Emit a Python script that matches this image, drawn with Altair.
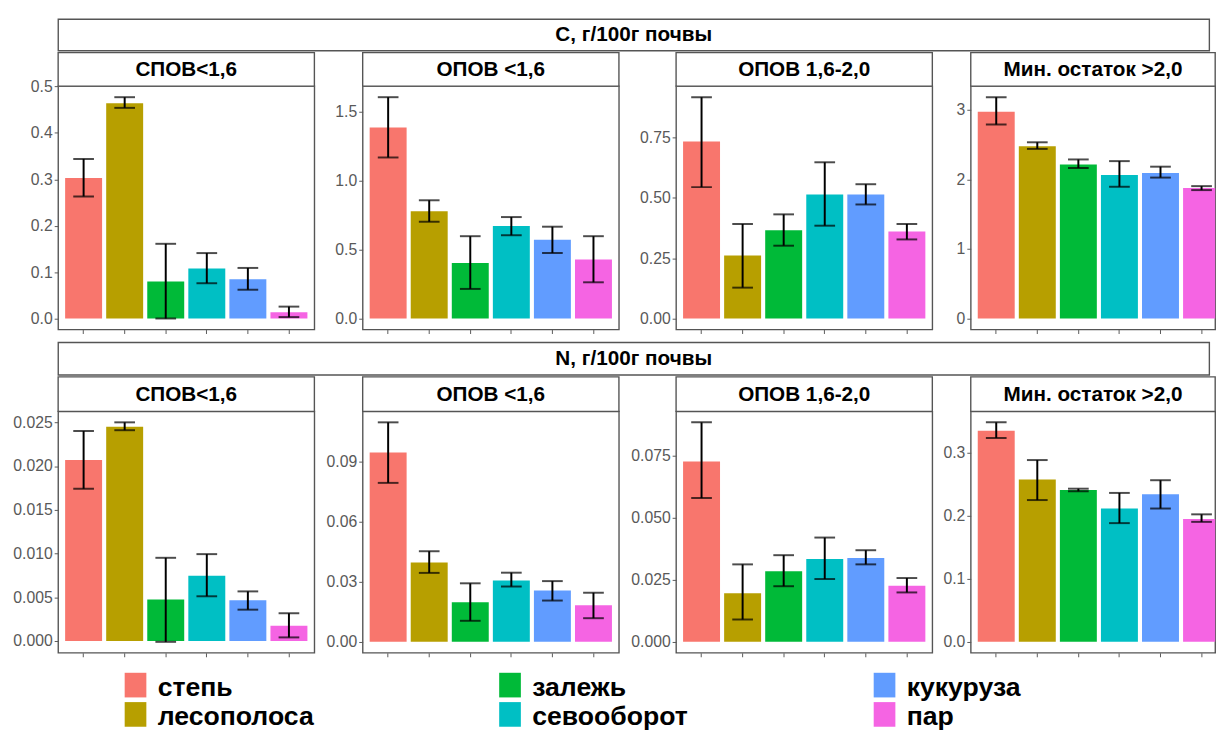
import altair as alt
import pandas as pd

# ---------------- data ----------------
categories = ["степь", "лесополоса", "залежь", "севооборот", "кукуруза", "пар"]
colors = ["#F8766D", "#B79F00", "#00BA38", "#00BFC4", "#619CFF", "#F564E3"]
fractions = ["СПОВ<1,6", "ОПОВ <1,6", "ОПОВ 1,6-2,0", "Мин. остаток >2,0"]
row_titles = ["C, г/100г почвы", "N, г/100г почвы"]

# C, g/100g soil  (one list per fraction)
c_mean = [
    [0.303, 0.464, 0.0795, 0.108, 0.0845, 0.0135],
    [1.388, 0.780, 0.404, 0.672, 0.572, 0.428],
    [0.734, 0.261, 0.366, 0.514, 0.514, 0.361],
    [2.976, 2.479, 2.218, 2.066, 2.095, 1.877],
]
c_lo = [
    [0.263, 0.454, 0.0, 0.076, 0.062, 0.003],
    [1.170, 0.703, 0.215, 0.605, 0.476, 0.263],
    [0.545, 0.128, 0.302, 0.385, 0.473, 0.328],
    [2.791, 2.441, 2.166, 1.896, 2.028, 1.848],
]
c_hi = [
    [0.344, 0.477, 0.161, 0.141, 0.109, 0.0256],
    [1.608, 0.859, 0.598, 0.737, 0.667, 0.598],
    [0.918, 0.392, 0.432, 0.648, 0.557, 0.392],
    [3.185, 2.536, 2.289, 2.265, 2.185, 1.905],
]

# N, g/100g soil
n_mean = [
    [0.0207, 0.0245, 0.00474, 0.00746, 0.00466, 0.00175],
    [0.0944, 0.0396, 0.0198, 0.0306, 0.0256, 0.0182],
    [0.0726, 0.0196, 0.0284, 0.0334, 0.0338, 0.0226],
    [0.334, 0.2568, 0.2403, 0.211, 0.2337, 0.1945],
]
n_lo = [
    [0.0174, 0.0241, -0.0001, 0.00511, 0.00358, 0.00041],
    [0.0793, 0.0344, 0.0105, 0.0276, 0.0206, 0.0118],
    [0.0579, 0.0090, 0.0224, 0.0253, 0.0312, 0.0199],
    [0.3227, 0.2244, 0.2383, 0.1879, 0.211, 0.1899],
]
n_hi = [
    [0.0240, 0.0250, 0.00951, 0.00993, 0.00567, 0.00317],
    [0.1095, 0.0452, 0.0292, 0.0345, 0.0303, 0.0245],
    [0.0884, 0.0312, 0.0349, 0.0420, 0.0369, 0.0257],
    [0.3474, 0.2877, 0.2424, 0.2357, 0.2558, 0.2018],
]

c_ticks = [[0, 0.1, 0.2, 0.3, 0.4, 0.5], [0, 0.5, 1.0, 1.5], [0, 0.25, 0.5, 0.75], [0, 1, 2, 3]]
c_fmt = [".1f", ".1f", ".2f", "d"]
n_ticks = [[0, 0.005, 0.01, 0.015, 0.02, 0.025], [0, 0.03, 0.06, 0.09], [0, 0.025, 0.05, 0.075], [0, 0.1, 0.2, 0.3]]
n_fmt = [".3f", ".2f", ".3f", ".1f"]

# ---------------- style / layout ----------------
FONT = "Liberation Sans"
BORDER = "#555555"
BW = 1.4
GREY = "#595959"
PANEL_W = 260
LAST_W = 248
EXTENTS = [52, 46, 55, 36]   # left-axis extents (gap before each panel)
X_EXT = 12
TOTAL_W = 3 * PANEL_W + sum(EXTENTS[1:]) + 3 + LAST_W

LEGEND = alt.Legend(
    title=None, orient="none", legendX=65, legendY=665, columns=3,
    columnPadding=185, rowPadding=1, gridAlign="all", padding=0,
    labelFont=FONT, labelFontSize=27, labelFontWeight="bold", labelColor="black",
    labelLimit=400, labelOffset=9,
    symbolType="M-0.88,-1.24H0.88V0.76H-0.88Z", symbolSize=625,
    symbolStrokeWidth=0, symbolOpacity=1,
)


def make_panel(name, mean, lo, hi, ticks, fmt, extent, width, strip_h, height):
    df = pd.DataFrame({"category": categories, "mean": mean, "lo": lo, "hi": hi})
    lo_d = min(0.0, min(lo))
    hi_d = max(hi)
    span = hi_d - lo_d
    dom = [lo_d - 0.05 * span, hi_d + 0.05 * span]

    x = alt.X(
        "category:N", sort=categories,
        scale=alt.Scale(paddingInner=0.1, paddingOuter=0.17, range=[0, PANEL_W]),
        axis=alt.Axis(labels=False, title=None, domain=False, grid=False, ticks=True,
                      tickSize=4, tickColor=GREY, tickWidth=1,
                      minExtent=X_EXT, maxExtent=X_EXT),
    )
    yscale = alt.Scale(domain=dom, zero=False, nice=False)
    yaxis = alt.Axis(values=ticks, format=fmt, title=None, grid=False, domain=False,
                     ticks=True, tickSize=4, tickColor=GREY, tickWidth=1,
                     labelColor=GREY, labelFont=FONT, labelFontSize=16, labelPadding=2,
                     minExtent=extent, maxExtent=extent)
    base = alt.Chart(df)
    bars = base.mark_bar(clip=True).encode(
        x=x,
        y=alt.Y("mean:Q", scale=yscale, axis=yaxis),
        y2=alt.datum(0),
        color=alt.Color("category:N", scale=alt.Scale(domain=categories, range=colors),
                        legend=LEGEND),
    )
    rule = base.mark_rule(color="black", strokeWidth=2).encode(x=x, y="lo:Q", y2="hi:Q")
    cap_lo = base.mark_tick(color="black", thickness=2, size=21).encode(x=x, y="lo:Q")
    cap_hi = base.mark_tick(color="black", thickness=2, size=21).encode(x=x, y="hi:Q")

    sdf = pd.DataFrame({"label": [name]})
    strip = alt.Chart(sdf).mark_rect(fill="white", stroke=BORDER, strokeWidth=BW).encode(
        x=alt.value(0), x2=alt.value(width), y=alt.value(-strip_h), y2=alt.value(0))
    strip_txt = alt.Chart(sdf).mark_text(font=FONT, fontSize=21, fontWeight="bold",
                                         color="black").encode(
        x=alt.value(width / 2), y=alt.value(-strip_h / 2 + 1), text="label:N")
    return alt.layer(bars, rule, cap_lo, cap_hi, strip, strip_txt).properties(
        width=width, height=height)


def make_outer_strip(label, h):
    sdf = pd.DataFrame({"label": [label]})
    return alt.Chart(sdf).mark_text(font=FONT, fontSize=21, fontWeight="bold",
                                    color="black").encode(
        y=alt.Y("label:N", axis=alt.Axis(labels=False, ticks=False, domain=False, title=None,
                                          grid=False, minExtent=EXTENTS[0],
                                          maxExtent=EXTENTS[0])),
        x=alt.value(TOTAL_W / 2),
        text="label:N",
    ).properties(width=TOTAL_W, height=h)


def make_row(means, los, his, ticks, fmts, strip_h, height):
    panels = []
    for i in range(4):
        w = LAST_W if i == 3 else PANEL_W
        panels.append(make_panel(fractions[i], means[i], los[i], his[i], ticks[i], fmts[i],
                                 EXTENTS[i], w, strip_h, height))
    return alt.hconcat(*panels, spacing=0)


row_c = make_row(c_mean, c_lo, c_hi, c_ticks, c_fmt, 34, 247)
row_n = make_row(n_mean, n_lo, n_hi, n_ticks, n_fmt, 35, 245)

chart = alt.vconcat(
    make_outer_strip(row_titles[0], 32), row_c,
    make_outer_strip(row_titles[1], 33), row_n,
    spacing=-1,
).properties(
    padding={"left": 6, "top": 13, "right": 0, "bottom": 0},
    background="white",
).configure_view(stroke=BORDER, strokeWidth=BW)

chart.save("out.html", embed_options={"renderer": "svg", "actions": False})
